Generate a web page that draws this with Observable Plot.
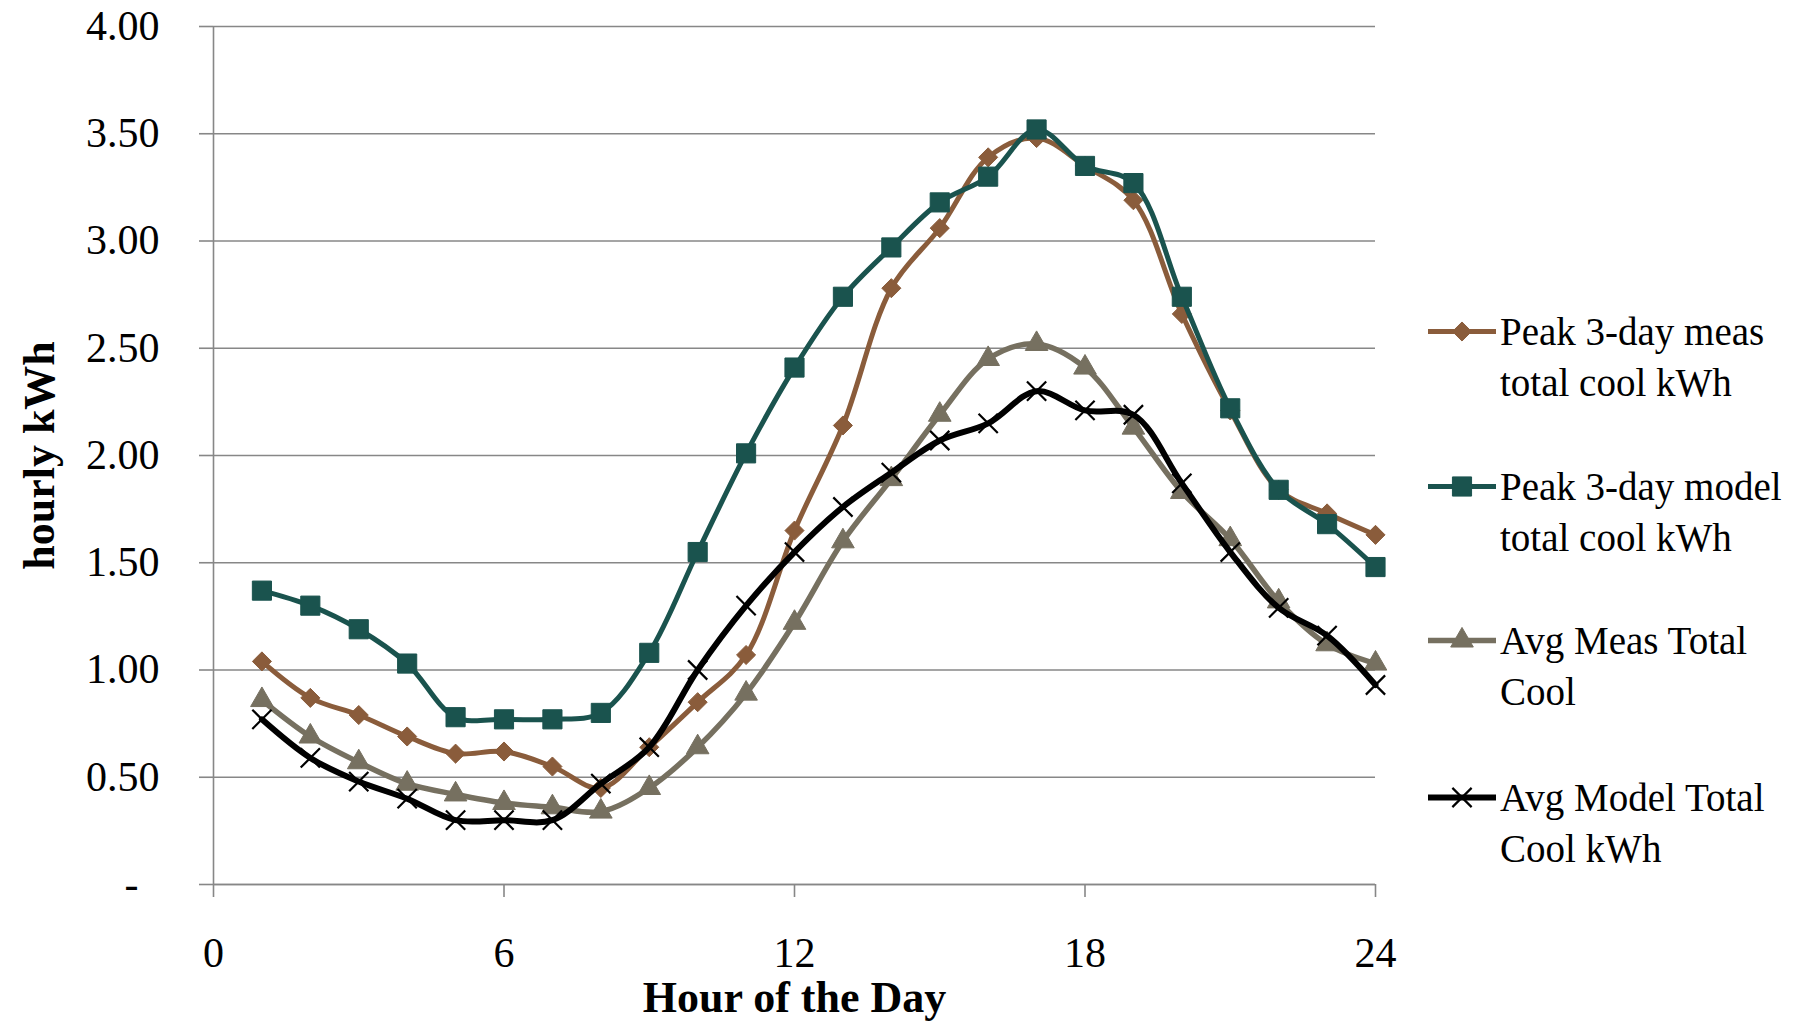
<!DOCTYPE html>
<html>
<head>
<meta charset="utf-8">
<script src="https://cdn.jsdelivr.net/npm/d3@7"></script>
<script src="https://cdn.jsdelivr.net/npm/@observablehq/plot@0.6"></script>
<style>
  html, body { margin: 0; padding: 0; background: #fff; }
  #wrap { position: relative; width: 1818px; height: 1024px; overflow: hidden; }
  .legend-item { position: absolute; left: 1500px; font-family: "Liberation Serif", serif; font-size: 39px; line-height: 51px; color: #000; white-space: nowrap; }
  .legend-swatch { position: absolute; left: 1428px; }
</style>
</head>
<body>
<div id="wrap"></div>
<script>
// Hour of the day, 1..24
const hours = [1, 2, 3, 4, 5, 6, 7, 8, 9, 10, 11, 12, 13, 14, 15, 16, 17, 18, 19, 20, 21, 22, 23, 24];

// Hourly cooling energy (kWh) for each series
const peakMeas  = [1.04, 0.87, 0.79, 0.69, 0.61, 0.62, 0.55, 0.45, 0.64, 0.85, 1.07, 1.65, 2.14, 2.78, 3.06, 3.39, 3.48, 3.35, 3.19, 2.66, 2.21, 1.84, 1.73, 1.63];
const peakModel = [1.37, 1.30, 1.19, 1.03, 0.78, 0.77, 0.77, 0.80, 1.08, 1.55, 2.01, 2.41, 2.74, 2.97, 3.18, 3.30, 3.52, 3.35, 3.27, 2.74, 2.22, 1.84, 1.68, 1.48];
const avgMeas   = [0.86, 0.69, 0.57, 0.47, 0.42, 0.38, 0.36, 0.34, 0.45, 0.64, 0.89, 1.22, 1.60, 1.89, 2.19, 2.45, 2.52, 2.41, 2.13, 1.83, 1.61, 1.32, 1.12, 1.03];
const avgModel  = [0.77, 0.59, 0.48, 0.40, 0.30, 0.30, 0.30, 0.47, 0.64, 1.00, 1.30, 1.55, 1.76, 1.92, 2.07, 2.15, 2.30, 2.21, 2.19, 1.87, 1.55, 1.29, 1.16, 0.93];

const seriesNames = [
  "Peak 3-day meas total cool kWh",
  "Peak 3-day model total cool kWh",
  "Avg Meas Total Cool",
  "Avg Model Total Cool kWh"
];
const legendLines = [
  ["Peak 3-day meas", "total cool kWh"],
  ["Peak 3-day model", "total cool kWh"],
  ["Avg Meas Total", "Cool"],
  ["Avg Model Total", "Cool kWh"]
];
const seriesValues = [peakMeas, peakModel, avgMeas, avgModel];

const xTicks = [0, 6, 12, 18, 24];
const yTicks = [0, 0.5, 1, 1.5, 2, 2.5, 3, 3.5, 4];

// styling per series
const colors  = ["#8a5c3b", "#1a534e", "#767060", "#000000"];
const symbols = ["diamond2", "square", "triangle", "times"];
const radii   = [8.6, 10.8, 8.4, 8.8];
const widths  = [5, 5, 5.5, 6];

const rows = seriesNames.flatMap((name, i) =>
  seriesValues[i].map((v, j) => ({ series: name, idx: i, hour: hours[j], kwh: v }))
);

const gridColor = "#878787";

const seriesMarks = seriesNames.flatMap((name, i) => {
  const data = rows.filter(d => d.idx === i);
  const isStroke = symbols[i] === "times";
  return [
    Plot.line(data, { x: "hour", y: "kwh", curve: "catmull-rom", stroke: colors[i], strokeWidth: widths[i] }),
    Plot.dot(data, {
      x: "hour", y: "kwh", symbol: symbols[i], r: radii[i],
      fill: isStroke ? "none" : colors[i],
      stroke: colors[i], strokeWidth: isStroke ? 2.2 : 1
    })
  ];
});

const chart = Plot.plot({
  width: 1818,
  height: 1024,
  marginLeft: 213,
  marginRight: 443,
  marginTop: 26,
  marginBottom: 140,
  style: { fontFamily: "Liberation Serif, serif", background: "#fff", color: "#000" },
  x: { domain: [0, 24], ticks: xTicks },
  y: { domain: [0, 4], ticks: yTicks },
  marks: [
    Plot.gridY(yTicks, { stroke: gridColor, strokeOpacity: 1, strokeWidth: 1.6 }),
    Plot.axisY(yTicks, {
      tickSize: 14, tickPadding: 40, fontSize: 42, stroke: gridColor, strokeWidth: 1.6,
      tickFormat: d => d === 0 ? "-\u2002" : d.toFixed(2), label: null
    }),
    Plot.axisX(xTicks, { tickSize: 13, tickPadding: 40, fontSize: 42, stroke: gridColor, strokeWidth: 1.6, label: null }),
    Plot.ruleX([0], { stroke: gridColor, strokeWidth: 1.6 }),
    Plot.ruleY([0], { stroke: gridColor, strokeWidth: 1.6 }),
    ...seriesMarks,
    Plot.text(["hourly kWh"], {
      frameAnchor: "left", dx: -174, rotate: -90, textAnchor: "middle", lineAnchor: "middle",
      fontSize: 44, fontWeight: "bold", text: d => d
    }),
    Plot.text(["Hour of the Day"], {
      frameAnchor: "bottom", dy: 113, textAnchor: "middle", lineAnchor: "middle",
      fontSize: 44, fontWeight: "bold", text: d => d
    })
  ]
});

const wrap = document.getElementById("wrap");
wrap.appendChild(chart);

// legend at the right of the plot area
const legendTops = [306, 461, 615, 772];
const symbolTypes = { diamond2: d3.symbolDiamond2, square: d3.symbolSquare, triangle: d3.symbolTriangle, times: d3.symbolTimes };
seriesNames.forEach((name, i) => {
  const sw = d3.create("svg")
    .attr("class", "legend-swatch")
    .attr("width", 68).attr("height", 51)
    .style("top", legendTops[i] + "px");
  sw.append("line")
    .attr("x1", 0).attr("x2", 68).attr("y1", 25.5).attr("y2", 25.5)
    .attr("stroke", colors[i]).attr("stroke-width", widths[i]);
  const isStroke = symbols[i] === "times";
  sw.append("path")
    .attr("transform", "translate(34,25.5)")
    .attr("d", d3.symbol(symbolTypes[symbols[i]], Math.PI * radii[i] * radii[i])())
    .attr("fill", isStroke ? "none" : colors[i])
    .attr("stroke", colors[i]).attr("stroke-width", isStroke ? 2.2 : 1);
  wrap.appendChild(sw.node());

  const div = document.createElement("div");
  div.className = "legend-item";
  div.style.top = legendTops[i] + "px";
  div.innerHTML = legendLines[i].join("<br>");
  wrap.appendChild(div);
});
</script>
</body>
</html>
